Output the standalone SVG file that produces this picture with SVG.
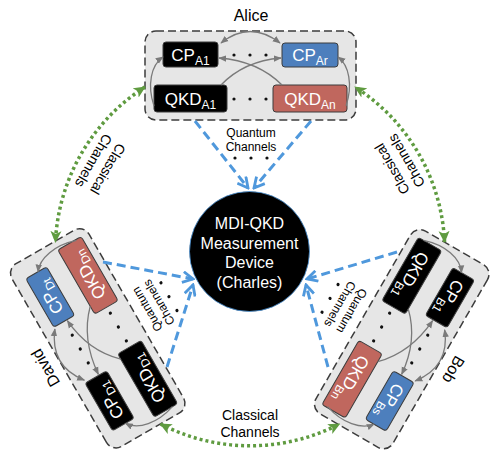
<svg xmlns="http://www.w3.org/2000/svg" width="498" height="459" viewBox="0 0 498 459">
<style>
.t{font-family:"Liberation Sans",Arial,sans-serif}
.grp{fill:#e6e6e6;stroke:#3c3c3c;stroke-width:1.5;stroke-dasharray:8 4}
.blk{fill:#000;stroke:#3c3c3c;stroke-width:1}
.blu{fill:#4d7fbd;stroke:#3c3c3c;stroke-width:1}
.red{fill:#c0675e;stroke:#3c3c3c;stroke-width:1}
.wt{fill:#fff;font-size:17px;text-anchor:middle}
.ct{fill:#fff;font-size:16px;text-anchor:middle}
.sb{font-size:12px}
.lbl{fill:#000;font-size:16px;text-anchor:middle}
.cl{fill:#000;font-size:14px;text-anchor:middle}
.ql{fill:#000;font-size:12px;text-anchor:middle}
.gc{fill:none;stroke:#7a7a7a;stroke-width:1.3}
.qc{fill:none;stroke:#4f98dc;stroke-width:3;stroke-dasharray:9 5}
.cc{fill:none;stroke:#5f9b40;stroke-width:3.5;stroke-dasharray:3 3}
.dot{fill:#111}
</style>
<defs>
<marker id="ga" viewBox="0 0 10 10" refX="9" refY="5" markerWidth="8" markerHeight="8" markerUnits="userSpaceOnUse" orient="auto-start-reverse"><path d="M0,1 L10,5 L0,9 z" fill="#7a7a7a"/></marker>
<marker id="ba" viewBox="0 0 12 12" refX="10.5" refY="6" markerWidth="13" markerHeight="13" markerUnits="userSpaceOnUse" orient="auto"><path d="M1,1 L10.5,6 L1,11" fill="none" stroke="#4f98dc" stroke-width="2.6" stroke-dasharray="none"/></marker>
<marker id="gr" viewBox="0 0 12 12" refX="11" refY="6" markerWidth="12" markerHeight="12" markerUnits="userSpaceOnUse" orient="auto-start-reverse"><path d="M0,0.5 L12,6 L0,11.5 L3,6 z" fill="#5f9b40"/></marker>
</defs>
<rect width="498" height="459" fill="#fff"/>

<!-- Nodes -->
<g id="nodes" class="t">
  <g id="charles">
    <circle cx="249.5" cy="251.5" r="60" fill="#000" stroke="#4f98dc" stroke-width="0.8"/>
    <text class="ct" x="249.5" y="229">MDI-QKD</text>
    <text class="ct" x="249.5" y="248.5">Measurement</text>
    <text class="ct" x="249.5" y="268">Device</text>
    <text class="ct" x="249.5" y="287.5">(Charles)</text>
  </g>

  <g id="alice">
    <rect class="grp" x="145" y="31" width="211" height="89" rx="11"/>
    <text class="lbl" x="251" y="21">Alice</text>
    <g id="cp-a1"><rect class="blk" x="163" y="42" width="55" height="25" rx="3"/><text class="wt" x="190.5" y="60.5">CP<tspan class="sb" dy="4">A1</tspan></text></g>
    <g id="cp-ar"><rect class="blu" x="282" y="43" width="56" height="24" rx="3"/><text class="wt" x="310" y="60.5">CP<tspan class="sb" dy="4">Ar</tspan></text></g>
    <g id="qkd-a1"><rect class="blk" x="154" y="85" width="73" height="27" rx="3"/><text class="wt" x="190.5" y="104.5">QKD<tspan class="sb" dy="4">A1</tspan></text></g>
    <g id="qkd-an"><rect class="red" x="273" y="85" width="74" height="27" rx="3"/><text class="wt" x="310" y="104.5">QKD<tspan class="sb" dy="4">An</tspan></text></g>
    <circle class="dot" cx="234" cy="55" r="1.6"/><circle class="dot" cx="250" cy="55" r="1.6"/><circle class="dot" cx="266" cy="55" r="1.6"/>
    <circle class="dot" cx="234" cy="99" r="1.6"/><circle class="dot" cx="250" cy="99" r="1.6"/><circle class="dot" cx="266" cy="99" r="1.6"/>
  </g>

  <g id="bob" transform="rotate(120 250 251)">
    <rect class="grp" x="145" y="31" width="211" height="89" rx="11"/>
    <text class="lbl" x="251" y="21">Bob</text>
    <g id="cp-b1"><rect class="blk" x="163" y="42" width="55" height="25" rx="3"/><text class="wt" x="190.5" y="60.5">CP<tspan class="sb" dy="4">B1</tspan></text></g>
    <g id="cp-bs"><rect class="blu" x="282" y="43" width="56" height="24" rx="3"/><text class="wt" x="310" y="60.5">CP<tspan class="sb" dy="4">Bs</tspan></text></g>
    <g id="qkd-b1"><rect class="blk" x="154" y="85" width="73" height="27" rx="3"/><text class="wt" x="190.5" y="104.5">QKD<tspan class="sb" dy="4">B1</tspan></text></g>
    <g id="qkd-bn"><rect class="red" x="273" y="85" width="74" height="27" rx="3"/><text class="wt" x="310" y="104.5">QKD<tspan class="sb" dy="4">Bn</tspan></text></g>
    <circle class="dot" cx="234" cy="55" r="1.6"/><circle class="dot" cx="250" cy="55" r="1.6"/><circle class="dot" cx="266" cy="55" r="1.6"/>
    <circle class="dot" cx="234" cy="99" r="1.6"/><circle class="dot" cx="250" cy="99" r="1.6"/><circle class="dot" cx="266" cy="99" r="1.6"/>
  </g>

  <g id="david" transform="rotate(-120 250 251)">
    <rect class="grp" x="145" y="31" width="211" height="89" rx="11"/>
    <text class="lbl" x="251" y="21">David</text>
    <g id="cp-d1"><rect class="blk" x="163" y="42" width="55" height="25" rx="3"/><text class="wt" x="190.5" y="60.5">CP<tspan class="sb" dy="4">D1</tspan></text></g>
    <g id="cp-dt"><rect class="blu" x="282" y="43" width="56" height="24" rx="3"/><text class="wt" x="310" y="60.5">CP<tspan class="sb" dy="4">Dt</tspan></text></g>
    <g id="qkd-d1"><rect class="blk" x="154" y="85" width="73" height="27" rx="3"/><text class="wt" x="190.5" y="104.5">QKD<tspan class="sb" dy="4">D1</tspan></text></g>
    <g id="qkd-dn"><rect class="red" x="273" y="85" width="74" height="27" rx="3"/><text class="wt" x="310" y="104.5">QKD<tspan class="sb" dy="4">Dn</tspan></text></g>
    <circle class="dot" cx="234" cy="55" r="1.6"/><circle class="dot" cx="250" cy="55" r="1.6"/><circle class="dot" cx="266" cy="55" r="1.6"/>
    <circle class="dot" cx="234" cy="99" r="1.6"/><circle class="dot" cx="250" cy="99" r="1.6"/><circle class="dot" cx="266" cy="99" r="1.6"/>
  </g>
</g>

<!-- Connectors -->
<g id="connectors" class="t">
  <g id="links-alice">
    <path class="gc" d="M221,43 Q250,20 280,43" marker-start="url(#ga)" marker-end="url(#ga)"/>
    <path class="gc" d="M221,85 Q244,61 281,58" marker-end="url(#ga)"/>
    <path class="gc" d="M282,85 Q258,61 219,58" marker-end="url(#ga)"/>
    <path class="gc" d="M154,106 C147,85 151,65 163,57" marker-end="url(#ga)"/>
    <path class="gc" d="M346,106 C353,85 349,65 338,57" marker-end="url(#ga)"/>
  </g>
  <g id="links-bob" transform="rotate(120 250 251)">
    <path class="gc" d="M221,43 Q250,20 280,43" marker-start="url(#ga)" marker-end="url(#ga)"/>
    <path class="gc" d="M221,85 Q244,61 281,58" marker-end="url(#ga)"/>
    <path class="gc" d="M282,85 Q258,61 219,58" marker-end="url(#ga)"/>
    <path class="gc" d="M154,106 C147,85 151,65 163,57" marker-end="url(#ga)"/>
    <path class="gc" d="M346,106 C353,85 349,65 338,57" marker-end="url(#ga)"/>
  </g>
  <g id="links-david" transform="rotate(-120 250 251)">
    <path class="gc" d="M221,43 Q250,20 280,43" marker-start="url(#ga)" marker-end="url(#ga)"/>
    <path class="gc" d="M221,85 Q244,61 281,58" marker-end="url(#ga)"/>
    <path class="gc" d="M282,85 Q258,61 219,58" marker-end="url(#ga)"/>
    <path class="gc" d="M154,106 C147,85 151,65 163,57" marker-end="url(#ga)"/>
    <path class="gc" d="M346,106 C353,85 349,65 338,57" marker-end="url(#ga)"/>
  </g>

  <g id="quantum-alice">
    <path class="qc" d="M195,121 L248,188" marker-end="url(#ba)"/>
    <path class="qc" d="M311,121 L254,188" marker-end="url(#ba)"/>
  </g>
  <g id="quantum-bob">
    <path class="qc" d="M397,252 L307,279" marker-end="url(#ba)"/>
    <path class="qc" d="M328,367 L306,285" marker-end="url(#ba)"/>
  </g>
  <g id="quantum-david">
    <path class="qc" d="M103,262 L193,279" marker-end="url(#ba)"/>
    <path class="qc" d="M167,367 L193,285" marker-end="url(#ba)"/>
  </g>
  <g id="qlabel-alice">
    <text class="ql" x="251" y="137">Quantum</text><text class="ql" x="251" y="150.5">Channels</text>
    <circle class="dot" cx="235" cy="158" r="1.6"/><circle class="dot" cx="251" cy="158" r="1.6"/><circle class="dot" cx="267" cy="158" r="1.6"/>
  </g>
  <g id="qlabel-bob" transform="rotate(120 250 251)">
    <text class="ql" x="251" y="137">Quantum</text><text class="ql" x="251" y="150.5">Channels</text>
    <circle class="dot" cx="235" cy="158" r="1.6"/><circle class="dot" cx="251" cy="158" r="1.6"/><circle class="dot" cx="267" cy="158" r="1.6"/>
  </g>
  <g id="qlabel-david" transform="rotate(-120 250 251)">
    <text class="ql" x="251" y="137">Quantum</text><text class="ql" x="251" y="150.5">Channels</text>
    <circle class="dot" cx="235" cy="158" r="1.6"/><circle class="dot" cx="251" cy="158" r="1.6"/><circle class="dot" cx="267" cy="158" r="1.6"/>
  </g>

  <g id="classical-david-bob">
    <path class="cc" d="M160.5,424 A195,195 0 0 0 339.5,424" marker-start="url(#gr)" marker-end="url(#gr)"/>
    <text class="cl" x="250" y="420">Classical</text><text class="cl" x="250" y="436.5">Channels</text>
  </g>
  <g id="classical-alice-david" transform="rotate(120 250 251)">
    <path class="cc" d="M160.5,424 A195,195 0 0 0 339.5,424" marker-start="url(#gr)" marker-end="url(#gr)"/>
    <text class="cl" x="250" y="420">Classical</text><text class="cl" x="250" y="436.5">Channels</text>
  </g>
  <g id="classical-alice-bob" transform="rotate(-120 250 251)">
    <path class="cc" d="M160.5,424 A195,195 0 0 0 339.5,424" marker-start="url(#gr)" marker-end="url(#gr)"/>
    <text class="cl" x="250" y="420">Classical</text><text class="cl" x="250" y="436.5">Channels</text>
  </g>
</g>
</svg>
